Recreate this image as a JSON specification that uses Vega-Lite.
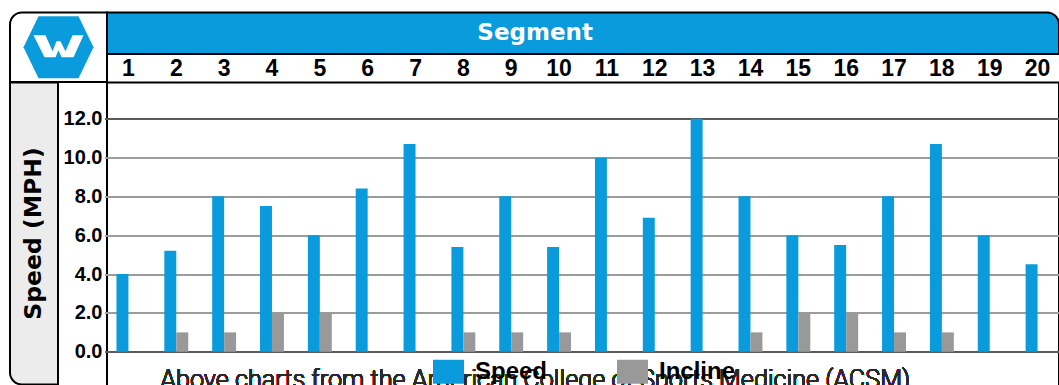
{
  "$schema": "https://vega.github.io/schema/vega-lite/v6.json",
  "background": "white",
  "padding": {"left": 9, "top": 11.5, "right": 0, "bottom": 0},
  "config": {"view": {"stroke": null}, "font": "DejaVu Sans"},
  "datasets": {
    "panel": [{"name": "frame"}],
    "workout": [
      {"segment": 1, "metric": "Speed", "value": 4.0}, {"segment": 1, "metric": "Incline", "value": 0},
      {"segment": 2, "metric": "Speed", "value": 5.2}, {"segment": 2, "metric": "Incline", "value": 1},
      {"segment": 3, "metric": "Speed", "value": 8.0}, {"segment": 3, "metric": "Incline", "value": 1},
      {"segment": 4, "metric": "Speed", "value": 7.5}, {"segment": 4, "metric": "Incline", "value": 2},
      {"segment": 5, "metric": "Speed", "value": 6.0}, {"segment": 5, "metric": "Incline", "value": 2},
      {"segment": 6, "metric": "Speed", "value": 8.4}, {"segment": 6, "metric": "Incline", "value": 0},
      {"segment": 7, "metric": "Speed", "value": 10.7}, {"segment": 7, "metric": "Incline", "value": 0},
      {"segment": 8, "metric": "Speed", "value": 5.4}, {"segment": 8, "metric": "Incline", "value": 1},
      {"segment": 9, "metric": "Speed", "value": 8.0}, {"segment": 9, "metric": "Incline", "value": 1},
      {"segment": 10, "metric": "Speed", "value": 5.4}, {"segment": 10, "metric": "Incline", "value": 1},
      {"segment": 11, "metric": "Speed", "value": 10.0}, {"segment": 11, "metric": "Incline", "value": 0},
      {"segment": 12, "metric": "Speed", "value": 6.9}, {"segment": 12, "metric": "Incline", "value": 0},
      {"segment": 13, "metric": "Speed", "value": 12.0}, {"segment": 13, "metric": "Incline", "value": 0},
      {"segment": 14, "metric": "Speed", "value": 8.0}, {"segment": 14, "metric": "Incline", "value": 1},
      {"segment": 15, "metric": "Speed", "value": 6.0}, {"segment": 15, "metric": "Incline", "value": 2},
      {"segment": 16, "metric": "Speed", "value": 5.5}, {"segment": 16, "metric": "Incline", "value": 2},
      {"segment": 17, "metric": "Speed", "value": 8.0}, {"segment": 17, "metric": "Incline", "value": 1},
      {"segment": 18, "metric": "Speed", "value": 10.7}, {"segment": 18, "metric": "Incline", "value": 1},
      {"segment": 19, "metric": "Speed", "value": 6.0}, {"segment": 19, "metric": "Incline", "value": 0},
      {"segment": 20, "metric": "Speed", "value": 4.5}, {"segment": 20, "metric": "Incline", "value": 0}
    ]
  },
  "columns": 2,
  "spacing": 0,
  "bounds": "flush",
  "resolve": {"scale": {"x": "independent", "y": "independent", "color": "independent"}},
  "concat": [
    {
      "width": 97,
      "height": 69.5,
      "data": {"name": "panel"},
      "layer": [
        {"mark": {"type": "rect", "fill": "white", "stroke": "black", "strokeWidth": 2, "cornerRadiusTopLeft": 12}, "encoding": {}},
        {"mark": {"type": "point", "shape": "M-35,0L-20,-31L20,-31L35,0L20,31L-20,31Z", "size": 4, "filled": true, "fill": "#0A9BDC", "opacity": 1, "strokeWidth": 0}, "encoding": {}},
        {"mark": {"type": "point", "shape": "M-25,-12L-13,-12L-6,4L-2,-6L2,-6L7,4L14,-12L25,-12L15,10L3,10L0,3L-3,10L-14,10Z", "size": 4, "filled": true, "fill": "white", "opacity": 1, "strokeWidth": 0}, "encoding": {}}
      ]
    },
    {
      "width": 952,
      "height": 41.5,
      "data": {"name": "panel"},
      "layer": [
        {"mark": {"type": "rect", "fill": "#0A9BDC", "stroke": "black", "strokeWidth": 2, "cornerRadiusTopRight": 12}, "encoding": {}},
        {
          "mark": {"type": "text", "text": "Segment", "color": "white", "font": "DejaVu Sans", "fontWeight": "bold", "fontSize": 23, "baseline": "middle", "align": "center"},
          "encoding": {
            "x": {"datum": 10, "type": "ordinal", "bandPosition": 0,
                  "scale": {"type": "band", "domain": [1,2,3,4,5,6,7,8,9,10,11,12,13,14,15,16,17,18,19,20], "paddingInner": 0, "paddingOuter": 0, "range": [-2.5, 954.5]},
                  "axis": null}
          }
        }
      ]
    },
    {
      "width": 48,
      "height": 302,
      "data": {"name": "panel"},
      "layer": [
        {"mark": {"type": "rect", "fill": "#ececec", "stroke": "black", "strokeWidth": 2, "cornerRadiusBottomLeft": 12}, "encoding": {}},
        {"mark": {"type": "text", "text": "Speed (MPH)", "angle": 270, "font": "DejaVu Sans", "fontWeight": "bold", "fontSize": 23.5, "baseline": "middle", "align": "center", "color": "black"}, "encoding": {}}
      ]
    },
    {
      "width": 952,
      "height": 314,
      "view": {"stroke": "black", "strokeWidth": 2},
      "data": {"name": "workout"},
      "layer": [
        {
          "mark": {"type": "bar"},
          "encoding": {
            "x": {"field": "segment", "type": "ordinal",
                  "scale": {"type": "band", "domain": [1,2,3,4,5,6,7,8,9,10,11,12,13,14,15,16,17,18,19,20], "paddingInner": 0, "paddingOuter": 0, "range": [-2.5, 954.5]},
                  "axis": {"orient": "top", "title": null, "domain": false, "ticks": false, "tickSize": 0, "labelPadding": 14, "labelAngle": 0, "labelBaseline": "middle", "labelFont": "Liberation Sans", "labelFontWeight": "bold", "labelFontSize": 23, "labelColor": "black", "grid": false}},
            "xOffset": {"field": "metric", "type": "nominal", "scale": {"domain": ["Speed", "Incline"], "paddingInner": 0, "paddingOuter": 1.175}},
            "y": {"field": "value", "type": "quantitative",
                  "scale": {"domain": [-2.3, 13.86], "nice": false, "zero": false},
                  "axis": {"values": [0,2,4,6,8,10,12], "format": ".1f", "title": null, "domain": false, "ticks": false, "tickSize": 0, "labelPadding": 5, "labelFont": "Liberation Sans", "labelFontWeight": "bold", "labelFontSize": 20, "labelColor": "black", "grid": true, "gridWidth": 2,
                           "gridColor": {"condition": {"test": "datum.value === 0 || datum.value === 12", "value": "#5a5a5a"}, "value": "#9c9c9c"}}},
            "y2": {"datum": 0},
            "color": {"field": "metric", "type": "nominal",
                      "scale": {"domain": ["Speed", "Incline"], "range": ["#0A9BDC", "#999999"]},
                      "legend": {"title": null, "orient": "none", "legendX": 326, "legendY": 273.5, "direction": "horizontal", "symbolType": "M-1,-0.774H1V0.774H-1Z", "symbolSize": 961, "symbolStrokeWidth": 0, "symbolOpacity": 1, "labelFont": "Liberation Sans", "labelFontWeight": "bold", "labelFontSize": 24, "labelColor": "black", "labelOffset": 11, "columnPadding": 69, "padding": 0}}
          }
        },
        {
          "mark": {"type": "text", "text": "Above charts from the American College of Sports Medicine (ACSM)", "baseline": "top", "align": "center", "font": "Roboto", "fontWeight": 300, "fontSize": 25.2, "color": "#2a2a2a"},
          "encoding": {
            "x": {"datum": 10, "type": "ordinal", "bandPosition": 0},
            "y": {"datum": -0.85, "type": "quantitative"}
          }
        }
      ]
    }
  ]
}
